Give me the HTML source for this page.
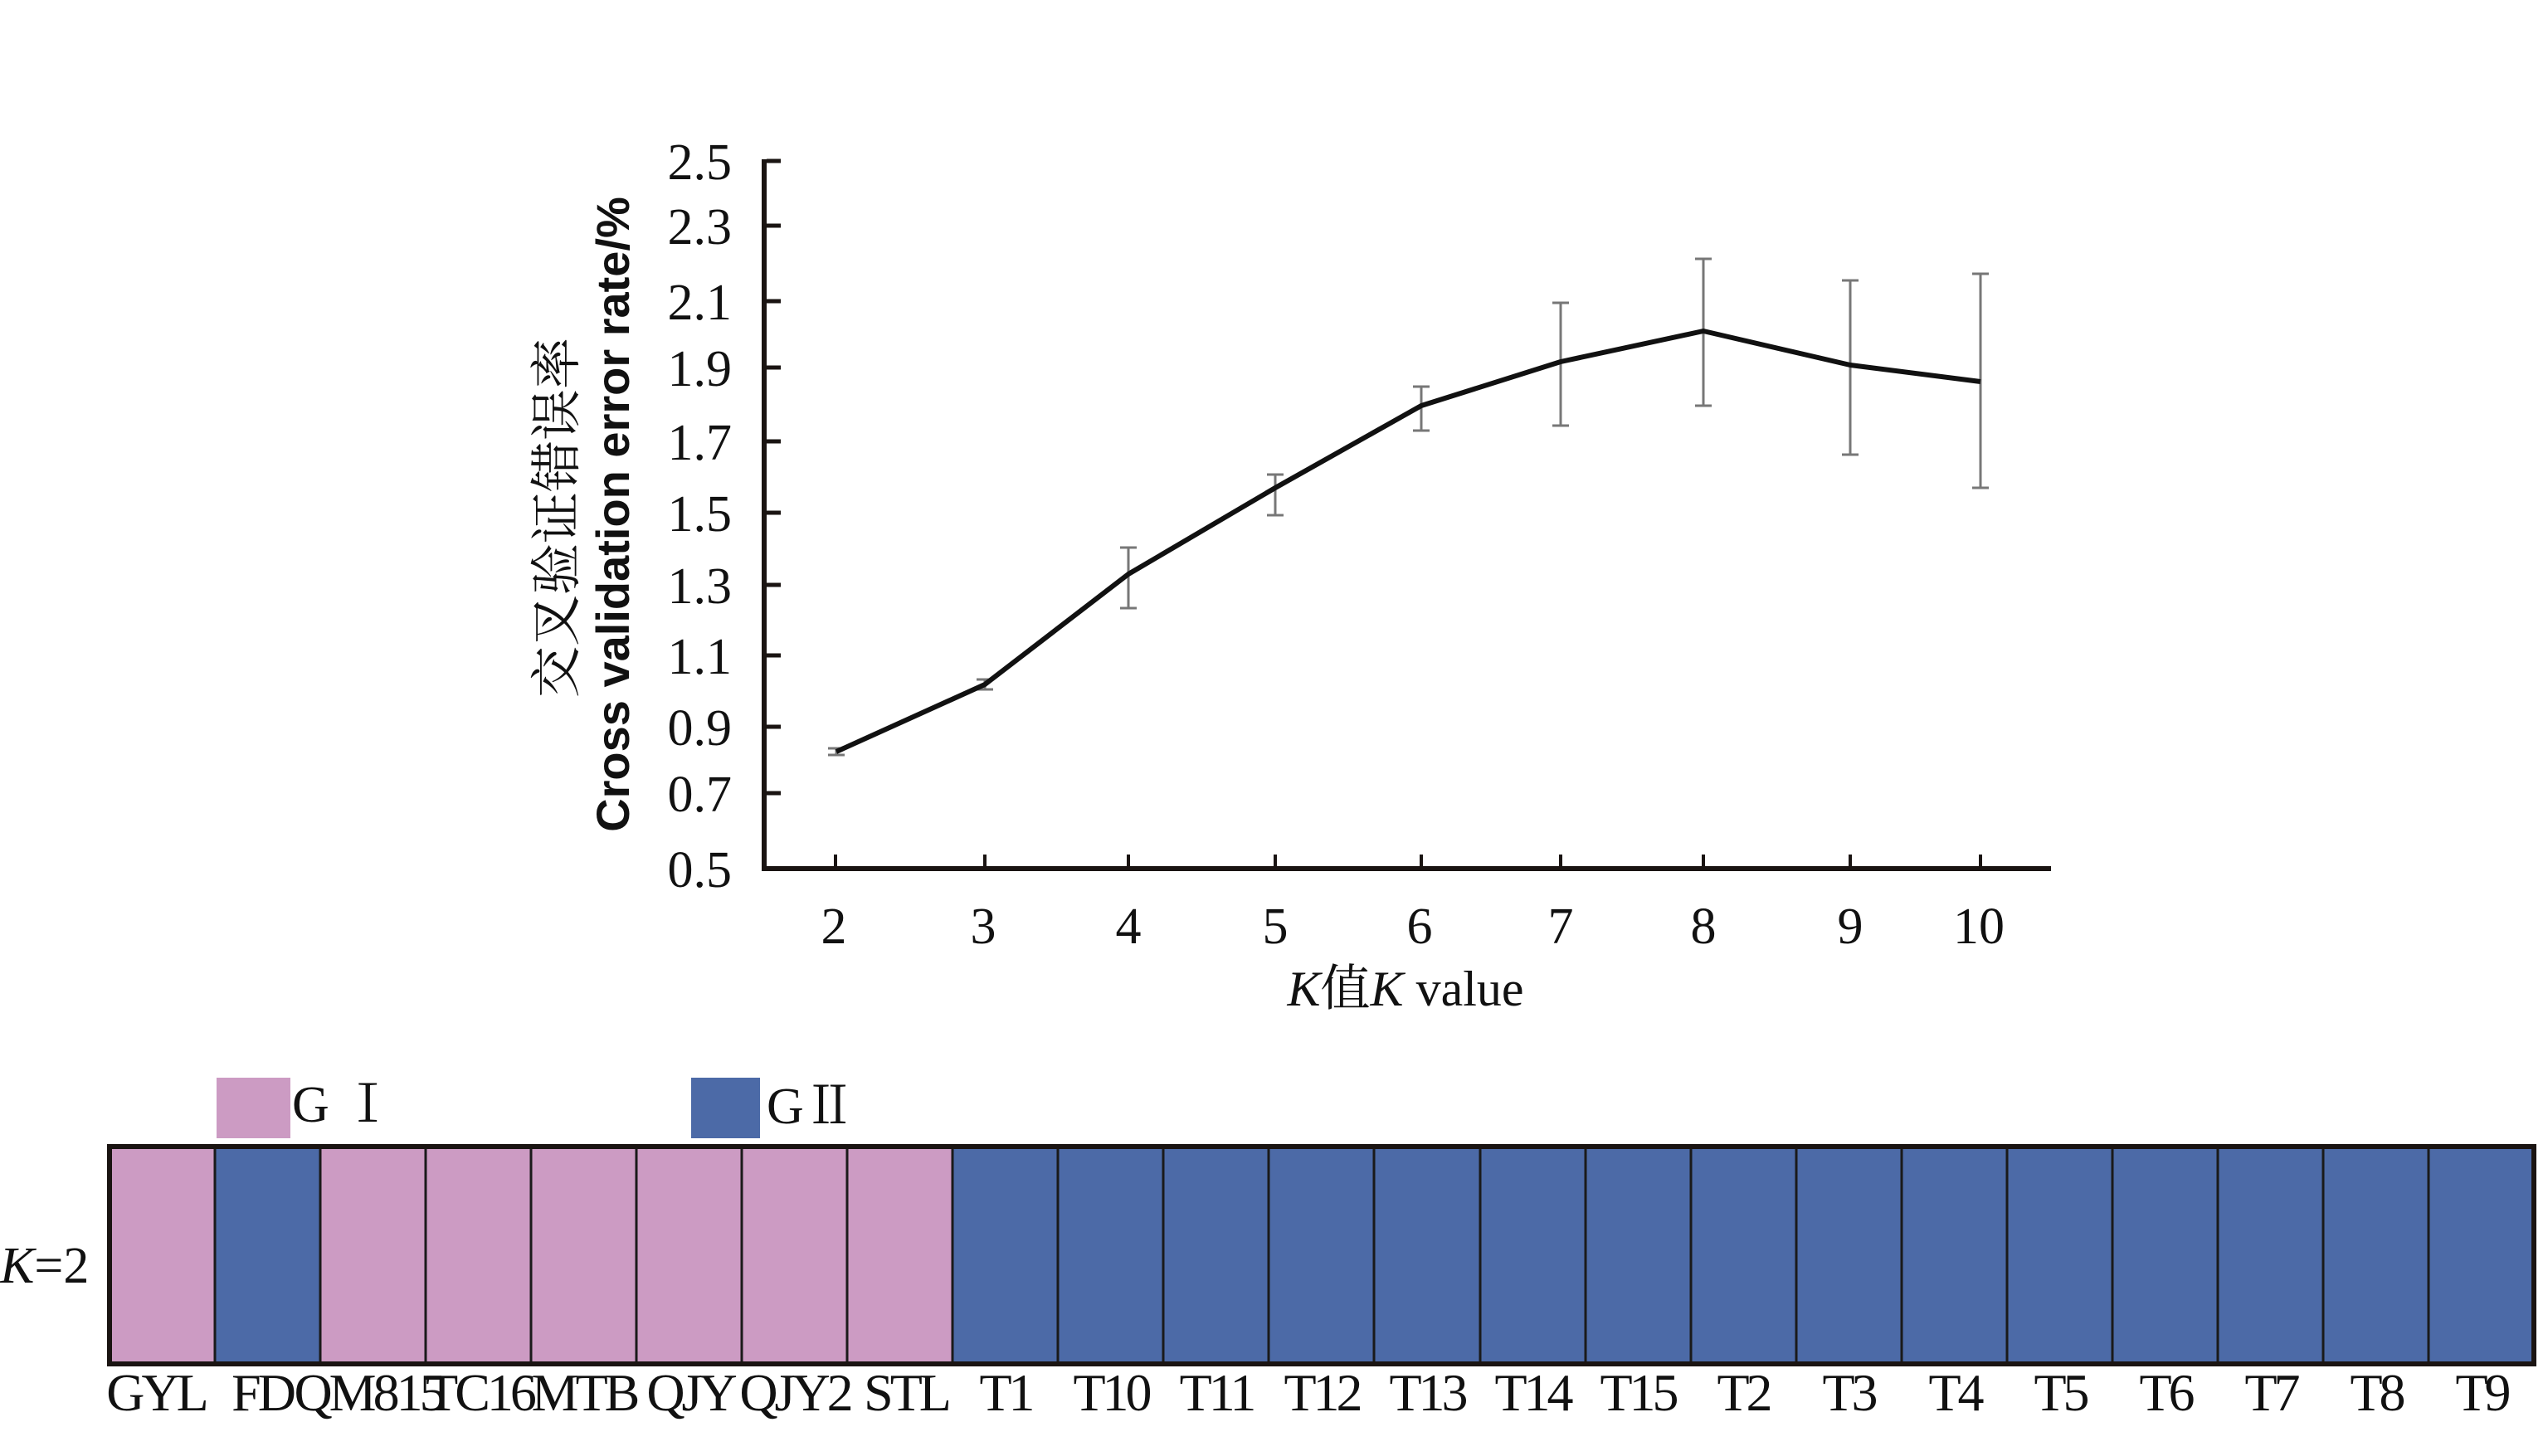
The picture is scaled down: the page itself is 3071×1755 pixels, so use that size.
<!DOCTYPE html>
<html><head><meta charset="utf-8"><style>
html,body{margin:0;padding:0;background:#fff;}
svg{display:block;}
.t{font-family:"Liberation Serif","Noto Serif CJK SC",serif;fill:#111;}
</style></head><body>
<svg width="3071" height="1755" viewBox="0 0 3071 1755" xmlns="http://www.w3.org/2000/svg">
<rect width="3071" height="1755" fill="#fff"/>
<line x1="921" y1="192" x2="921" y2="1049" stroke="#1a1412" stroke-width="6"/>
<line x1="918" y1="1047" x2="2472" y2="1047" stroke="#1a1412" stroke-width="6"/>
<g stroke="#1a1412" stroke-width="5">
<line x1="924" y1="194" x2="941" y2="194"/>
<line x1="924" y1="272" x2="941" y2="272"/>
<line x1="924" y1="363" x2="941" y2="363"/>
<line x1="924" y1="443" x2="941" y2="443"/>
<line x1="924" y1="532" x2="941" y2="532"/>
<line x1="924" y1="618" x2="941" y2="618"/>
<line x1="924" y1="705" x2="941" y2="705"/>
<line x1="924" y1="790" x2="941" y2="790"/>
<line x1="924" y1="876" x2="941" y2="876"/>
<line x1="924" y1="956" x2="941" y2="956"/>
</g>
<g stroke="#1a1412" stroke-width="4">
<line x1="1007" y1="1030" x2="1007" y2="1047"/>
<line x1="1187" y1="1030" x2="1187" y2="1047"/>
<line x1="1360" y1="1030" x2="1360" y2="1047"/>
<line x1="1537" y1="1030" x2="1537" y2="1047"/>
<line x1="1713" y1="1030" x2="1713" y2="1047"/>
<line x1="1881" y1="1030" x2="1881" y2="1047"/>
<line x1="2053" y1="1030" x2="2053" y2="1047"/>
<line x1="2230" y1="1030" x2="2230" y2="1047"/>
<line x1="2387" y1="1030" x2="2387" y2="1047"/>
</g>
<g class="t" font-size="62" text-anchor="end">
<text x="882" y="216">2.5</text>
<text x="882" y="294">2.3</text>
<text x="882" y="385">2.1</text>
<text x="882" y="465">1.9</text>
<text x="882" y="554">1.7</text>
<text x="882" y="640">1.5</text>
<text x="882" y="727">1.3</text>
<text x="882" y="812">1.1</text>
<text x="882" y="898">0.9</text>
<text x="882" y="978">0.7</text>
<text x="882" y="1069">0.5</text>
</g>
<g class="t" font-size="62" text-anchor="middle">
<text x="1005" y="1137">2</text>
<text x="1185" y="1137">3</text>
<text x="1360" y="1137">4</text>
<text x="1537" y="1137">5</text>
<text x="1711" y="1137">6</text>
<text x="1881" y="1137">7</text>
<text x="2053" y="1137">8</text>
<text x="2230" y="1137">9</text>
<text x="2385" y="1137">10</text>
</g>
<text class="t" x="1694" y="1212" font-size="60" text-anchor="middle"><tspan font-style="italic">K</tspan>值<tspan font-style="italic">K</tspan> value</text>
<text x="0" y="0" transform="translate(692,624) rotate(-90)" text-anchor="middle" font-family="'Noto Serif CJK SC','Liberation Serif',serif" font-size="62" fill="#111">交叉验证错误率</text>
<text x="0" y="0" transform="translate(758,620) rotate(-90)" text-anchor="middle" font-family="'Liberation Sans',sans-serif" font-weight="bold" font-size="56" fill="#111">Cross validation error rate/%</text>
<g stroke="#777" stroke-width="3">
<path d="M1008 902V910M998 902H1018M998 910H1018"/>
<path d="M1187 819V831M1177 819H1197M1177 831H1197"/>
<path d="M1360 660V733M1350 660H1370M1350 733H1370"/>
<path d="M1537 572V621M1527 572H1547M1527 621H1547"/>
<path d="M1713 466V519M1703 466H1723M1703 519H1723"/>
<path d="M1881 365V513M1871 365H1891M1871 513H1891"/>
<path d="M2053 312V489M2043 312H2063M2043 489H2063"/>
<path d="M2230 338V548M2220 338H2240M2220 548H2240"/>
<path d="M2387 330V588M2377 330H2397M2377 588H2397"/>
</g>
<polyline points="1008,906 1187,825 1360,692 1537,588 1713,489 1881,436 2053,399 2230,440 2387,460" fill="none" stroke="#111" stroke-width="6" stroke-linejoin="round"/>
<rect x="261" y="1299" width="89" height="73" fill="#cc9bc3"/>
<text class="t" x="352" y="1352" font-size="62">G Ⅰ</text>
<rect x="833" y="1299" width="83" height="73" fill="#4c6aa7"/>
<text class="t" x="924" y="1354" font-size="62">GⅡ</text>
<rect x="132" y="1382" width="1016" height="262" fill="#cc9bc3"/>
<rect x="1148" y="1382" width="1906" height="262" fill="#4c6aa7"/>
<rect x="259" y="1382" width="127" height="262" fill="#4c6aa7"/>
<g stroke="#1a1a1a" stroke-width="3">
<path d="M259 1382V1644M386 1382V1644M513 1382V1644M640 1382V1644M767 1382V1644M894 1382V1644M1021 1382V1644M1148 1382V1644M1275 1382V1644M1402 1382V1644M1529 1382V1644M1656 1382V1644M1784 1382V1644M1911 1382V1644M2038 1382V1644M2165 1382V1644M2292 1382V1644M2419 1382V1644M2546 1382V1644M2673 1382V1644M2800 1382V1644M2927 1382V1644"/>
</g>
<rect x="132" y="1382" width="2922" height="262" fill="none" stroke="#1a1412" stroke-width="6"/>
<text class="t" x="0" y="1546" font-size="62"><tspan font-style="italic">K</tspan>=2</text>
<g class="t" font-size="64" text-anchor="middle" letter-spacing="-4">
<text x="188" y="1700">GYL</text>
<text x="316" y="1700">FD</text>
<text x="444" y="1700">QM815</text>
<text x="578" y="1700">TC16</text>
<text x="704" y="1700">MTB</text>
<text x="832" y="1700">QJY</text>
<text x="958" y="1700">QJY2</text>
<text x="1092" y="1700">STL</text>
<text x="1212" y="1700">T1</text>
<text x="1339" y="1700">T10</text>
<text x="1466" y="1700">T11</text>
<text x="1593" y="1700">T12</text>
<text x="1720" y="1700">T13</text>
<text x="1847" y="1700">T14</text>
<text x="1974" y="1700">T15</text>
<text x="2101" y="1700">T2</text>
<text x="2228" y="1700">T3</text>
<text x="2356" y="1700">T4</text>
<text x="2483" y="1700">T5</text>
<text x="2610" y="1700">T6</text>
<text x="2737" y="1700">T7</text>
<text x="2864" y="1700">T8</text>
<text x="2991" y="1700">T9</text>
</g>
</svg>
</body></html>
